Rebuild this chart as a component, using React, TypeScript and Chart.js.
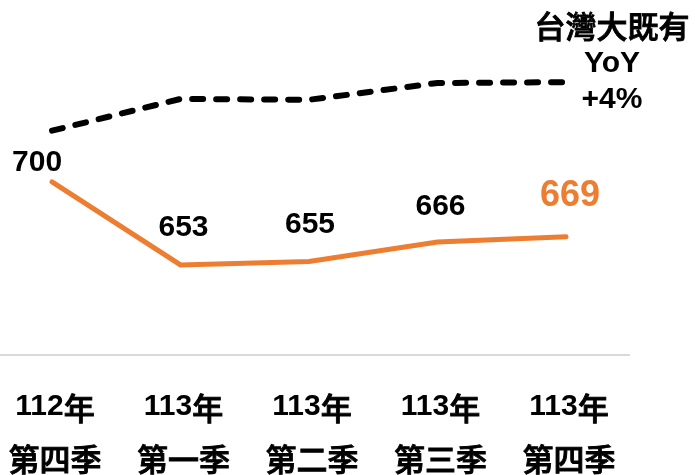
import React, { useEffect, useRef } from "react";
import { Chart, registerables } from "chart.js";

Chart.register(...registerables);

const categoriesTop = ["112年", "113年", "113年", "113年", "113年"];
const categoriesBottom = ["第四季", "第一季", "第二季", "第三季", "第四季"];
const orangeValues = [700, 653, 655, 666, 669];
const dashedValues = [729, 747, 746.5, 756, 756.5];
const noteLines = ["台灣大既有", "YoY", "+4%"];

const labelOffsets = [
  { dx: -15, dy: -19 },
  { dx: 3, dy: -37 },
  { dx: 1, dy: -37 },
  { dx: 3, dy: -35 },
  { dx: 4, dy: -41 },
];

const LATIN = "'Liberation Sans', Arial, sans-serif";
const CJK = "'Noto Sans CJK TC', 'Noto Sans CJK SC', sans-serif";
const ORANGE = "#ED7D31";

function drawMixed(ctx: CanvasRenderingContext2D, text: string, cx: number, cy: number, size: number) {
  const runs: { t: string; cjk: boolean }[] = [];
  for (const ch of text) {
    const cjk = ch.charCodeAt(0) > 0x2e80;
    const last = runs[runs.length - 1];
    if (last && last.cjk === cjk) last.t += ch;
    else runs.push({ t: ch, cjk });
  }
  const fontFor = (cjk: boolean) => (cjk ? `500 ${size + 1}px ${CJK}` : `bold ${size}px ${LATIN}`);
  let total = 0;
  const widths = runs.map((r) => {
    ctx.font = fontFor(r.cjk);
    const w = ctx.measureText(r.t).width;
    total += w;
    return w;
  });
  let x = cx - total / 2;
  ctx.textAlign = "left";
  ctx.textBaseline = "middle";
  runs.forEach((r, i) => {
    ctx.font = fontFor(r.cjk);
    const y = cy + (r.cjk ? 1 : 0);
    ctx.fillText(r.t, x, y);
    if (r.cjk) {
      ctx.strokeStyle = ctx.fillStyle as string;
      ctx.lineWidth = 0.9;
      ctx.strokeText(r.t, x, y);
    }
    x += widths[i];
  });
}

export default function App() {
  const ref = useRef<HTMLCanvasElement | null>(null);
  useEffect(() => {
    document.body.style.margin = "0";
    const canvas = ref.current!;
    const overlay = {
      id: "overlay",
      afterDatasetsDraw(chart: any) {
        const ctx = chart.ctx as CanvasRenderingContext2D;
        const xs = chart.scales.x;
        const ys = chart.scales.y;
        const area = chart.chartArea;
        ctx.save();
        // baseline
        ctx.strokeStyle = "#d9d9d9";
        ctx.lineWidth = 2;
        ctx.beginPath();
        ctx.moveTo(0, area.bottom);
        ctx.lineTo(area.right, area.bottom);
        ctx.stroke();
        // value labels
        orangeValues.forEach((v, i) => {
          const x = xs.getPixelForValue(i) + labelOffsets[i].dx;
          const y = ys.getPixelForValue(v) + labelOffsets[i].dy;
          const last = i === orangeValues.length - 1;
          ctx.fillStyle = last ? ORANGE : "#000";
          drawMixed(ctx, String(v), x, y, last ? 36 : 30);
        });
        // x labels
        ctx.fillStyle = "#000";
        categoriesTop.forEach((t, i) => {
          const x = xs.getPixelForValue(i) + 3;
          drawMixed(ctx, t, x, area.bottom + 52, 30);
          drawMixed(ctx, categoriesBottom[i], x, area.bottom + 103, 30);
        });
        // note
        const noteY = [25, 64, 100];
        noteLines.forEach((t, i) => {
          drawMixed(ctx, t, 612, noteY[i], 30);
        });
        ctx.restore();
      },
    };
    const chart = new Chart(canvas, {
      type: "line",
      data: {
        datasets: [
          {
            data: dashedValues.map((v, i) => ({ x: i, y: v })),
            borderColor: "#000",
            borderWidth: 6,
            borderDash: [11, 13],
            borderCapStyle: "round",
            pointRadius: 0,
            tension: 0,
          },
          {
            data: orangeValues.map((v, i) => ({ x: i, y: v })),
            borderColor: ORANGE,
            borderWidth: 5,
            borderCapStyle: "round",
            pointRadius: 0,
            tension: 0,
          },
        ],
      },
      options: {
        animation: false,
        responsive: false,
        layout: { padding: { left: 0, top: 0, right: 65, bottom: 120 } },
        plugins: { legend: { display: false }, tooltip: { enabled: false } },
        scales: {
          x: { type: "linear", display: false, min: -0.405, max: 4.498 },
          y: { display: false, min: 602, max: 803 },
        },
      },
      plugins: [overlay],
    } as any);
    return () => chart.destroy();
  }, []);
  return <canvas ref={ref} width={695} height={475} style={{ display: "block" }} />;
}
